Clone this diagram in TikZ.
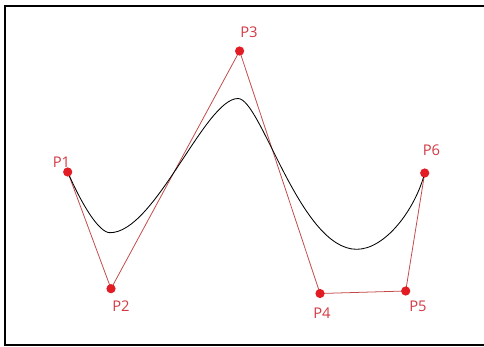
\documentclass[tikz,border=0pt]{standalone}
\usepackage{fontspec}
\setmainfont{Open Sans}
\usepackage{tikz}
\usetikzlibrary{arrows, shapes}
\definecolor{punktrot}{RGB}{226,28,36}
\definecolor{linienrot}{RGB}{196,72,72}
\definecolor{textrot}{RGB}{212,58,68}

\begin{document}
\begin{tikzpicture}[punkt/.style={circle, fill=punktrot, draw=none, minimum size=2.3mm, inner sep=0pt, outer sep=0pt},
			lbl/.style={text=textrot, inner sep=0pt, font=\fontsize{10.5}{12}\selectfont},
			polygon/.style={draw=linienrot, line width=0.55pt},
			kurve/.style={draw=black, line width=0.6pt},
			x=0.25mm, y=-0.25mm,
			>=latex]
			%Bildbereich
			\useasboundingbox (0,0) rectangle (484,346);
			\fill[white] (0,0) rectangle (484,346);
			%Rahmen
			\draw[line width=0.5mm] (484,6) -- (5,6) -- (5,344.6) -- (484,344.6);
			%Kontrollpunkte
			\foreach \n/\x/\y in {1/67.7/172, 2/111/288.7, 3/239.6/51, 4/320/293.5, 5/405.7/291, 6/424.7/173}
				\coordinate (P\n) at (\x,\y);
			%Kontrollpolygon
			\draw[polygon] (P1) -- (P2) -- (P3) -- (P4) -- (P5) -- (P6);
			%Kurve
			\draw[kurve] (P1) .. controls (82,205) and (99,232.7) .. (110,232.7)
				.. controls (155,232.7) and (205,98.5) .. (238,98.5)
				.. controls (261,98.5) and (300,249.3) .. (356.7,249.3)
				.. controls (385,249.3) and (415,210) .. (P6);
			%Punkte zeichnen
			\foreach \n in {1,...,6} \node[punkt] (D\n) at (P\n) {};
			%Beschriftung
			\foreach \n/\x/\y in {1/61.5/162, 2/121/306, 3/249/32, 4/322/313.5, 5/418/306.5, 6/431.5/150.5}
				\node[lbl] (L\n) at (\x,\y) {P\n};
		\end{tikzpicture}
\end{document}
